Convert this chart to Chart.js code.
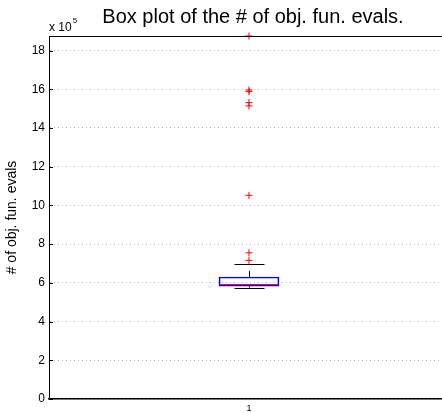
<!DOCTYPE html>
<html>
<head>
<meta charset="utf-8">
<script src="https://cdn.jsdelivr.net/npm/chart.js@4"></script>
<style>
  html, body { margin: 0; padding: 0; background: #fff; overflow: hidden; }
  #wrap { width: 460px; height: 413px; }
</style>
</head>
<body>
<div id="wrap"><canvas id="boxChart" width="460" height="413"></canvas></div>
<script>
/* ── Data (number of objective function evaluations) ── */
const categories = ["1"];
const whiskerLow = [575000];
const quartile1 = [583000];
const medians = [596000];
const quartile3 = [630000];
const whiskerHigh = [697000];
const outliers = [1875000, 1596000, 1588000, 1531000, 1514000, 1052000, 755000, 716000];
const yTicks = [0, 200000, 400000, 600000, 800000, 1000000, 1200000, 1400000, 1600000, 1800000];
const yMax = 1875000;

Chart.defaults.font.family = "'Liberation Sans', Arial, sans-serif";
Chart.defaults.color = "#000";

/* ── Whiskers, caps, median, frame, title ── */
const boxPlotPlugin = {
  id: "boxPlot",
  afterDatasetsDraw(chart) {
    const { ctx, chartArea, scales } = chart;
    const y = scales.y;
    const boxes = chart.getDatasetMeta(0).data;

    ctx.save();
    categories.forEach((cat, i) => {
      const bar = boxes[i];
      const cx = Math.round(bar.x) + 0.5;
      const half = bar.width / 2;
      const capHalf = half / 2;

      // whiskers (dashed)
      ctx.strokeStyle = "#000";
      ctx.lineWidth = 1;
      ctx.setLineDash([6, 7]);
      ctx.beginPath();
      ctx.moveTo(cx, y.getPixelForValue(quartile3[i]));
      ctx.lineTo(cx, y.getPixelForValue(whiskerHigh[i]));
      ctx.moveTo(cx, y.getPixelForValue(quartile1[i]));
      ctx.lineTo(cx, y.getPixelForValue(whiskerLow[i]));
      ctx.stroke();
      ctx.setLineDash([]);

      // caps
      ctx.beginPath();
      [whiskerHigh[i], whiskerLow[i]].forEach((v) => {
        const py = Math.round(y.getPixelForValue(v)) + 0.5;
        ctx.moveTo(cx - capHalf, py);
        ctx.lineTo(cx + capHalf, py);
      });
      ctx.stroke();

      // median
      ctx.strokeStyle = "#ff0000";
      ctx.beginPath();
      const my = Math.round(y.getPixelForValue(medians[i])) + 0.5;
      ctx.moveTo(cx - half + 1, my);
      ctx.lineTo(cx + half - 1, my);
      ctx.stroke();
    });

    // inner tick marks on the y axis
    ctx.strokeStyle = "#000";
    ctx.beginPath();
    y.ticks.forEach((t) => {
      const py = Math.round(y.getPixelForValue(t.value)) + 0.5;
      ctx.moveTo(chartArea.left, py);
      ctx.lineTo(chartArea.left + 4, py);
    });
    ctx.stroke();

    // top and right frame
    ctx.beginPath();
    ctx.moveTo(chartArea.left, chartArea.top + 0.5);
    ctx.lineTo(chartArea.right, chartArea.top + 0.5);
    ctx.lineTo(chartArea.right, chartArea.bottom);
    ctx.stroke();

    // title
    ctx.fillStyle = "#000";
    ctx.textAlign = "center";
    ctx.textBaseline = "alphabetic";
    ctx.font = "20px 'Liberation Sans', Arial, sans-serif";
    ctx.fillText("Box plot of the # of obj. fun. evals.", (chartArea.left + chartArea.right) / 2 + 4, 23);

    // exponent label
    ctx.textAlign = "left";
    ctx.font = "12px 'Liberation Sans', Arial, sans-serif";
    ctx.fillText("x 10", 49, 31);
    const w = ctx.measureText("x 10").width;
    ctx.font = "8px 'Liberation Sans', Arial, sans-serif";
    ctx.fillText("5", 49 + w + 1, 23);
    ctx.restore();
  },
};

new Chart(document.getElementById("boxChart").getContext("2d"), {
  type: "bar",
  data: {
    labels: categories,
    datasets: [
      {
        label: "box",
        data: categories.map((c, i) => [quartile1[i], quartile3[i]]),
        backgroundColor: "rgba(0,0,0,0)",
        borderColor: "#0000ff",
        borderWidth: 1,
        borderSkipped: false,
        barThickness: 60,
      },
      {
        type: "line",
        label: "outliers",
        data: outliers.map((v) => ({ x: categories[0], y: v })),
        showLine: false,
        pointStyle: "cross",
        pointRadius: 3.5,
        pointBorderWidth: 1,
        borderColor: "#ff0000",
        backgroundColor: "#ff0000",
        clip: false,
      },
    ],
  },
  options: {
    responsive: false,
    animation: false,
    layout: { padding: { top: 36, right: 11, left: 0, bottom: 0 } },
    scales: {
      x: {
        grid: { display: false, drawTicks: false },
        border: { color: "#000", width: 1.5 },
        ticks: { font: { size: 9 }, padding: 4 },
        afterFit: (scale) => { scale.height = 14; },
      },
      y: {
        min: 0,
        max: yMax,
        grid: { color: "#b4b4b4", drawTicks: false },
        border: { color: "#000", width: 1, dash: [1, 3] },
        afterBuildTicks: (scale) => {
          scale.ticks = yTicks.map((v) => ({ value: v }));
        },
        ticks: {
          padding: 4,
          font: { size: 12 },
          callback: (v) => v / 100000,
        },
        title: {
          display: true,
          text: "# of obj. fun. evals",
          font: { size: 14 },
          padding: { top: 4, bottom: 0 },
        },
        afterFit: (scale) => { scale.width = 49; },
      },
    },
    plugins: {
      legend: { display: false },
      tooltip: { enabled: false },
    },
  },
  plugins: [boxPlotPlugin],
});
</script>
</body>
</html>
